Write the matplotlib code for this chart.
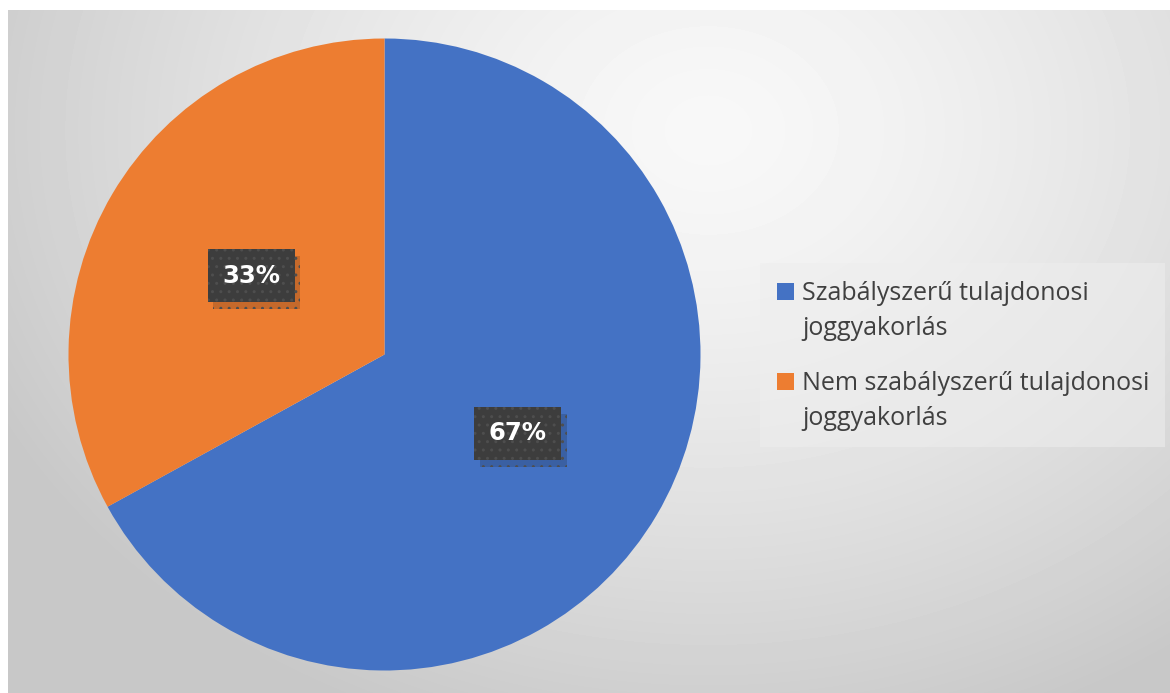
import numpy as np
import matplotlib
matplotlib.use('Agg')
import matplotlib.pyplot as plt
from matplotlib.patches import Rectangle
import matplotlib.patheffects as pe

labels = ['Szabályszerű tulajdonosi\njoggyakorlás',
          'Nem szabályszerű tulajdonosi\njoggyakorlás']
values = [67, 33]
colors = ['#4472C4', '#ED7D31']

W, H = 1170, 693
fig = plt.figure(figsize=(W / 100, H / 100), dpi=100)
fig.patch.set_facecolor('white')

# background gradient (chart area)
bg = fig.add_axes([8 / W, 0, (W - 8) / W, (H - 10) / H])
yy, xx = np.mgrid[0:683, 0:1162]
d = np.sqrt((xx - 700) ** 2 + ((yy - 120) * 1.25) ** 2)
t = np.clip(d / 800, 0, 1)
shade = 0.972 - 0.19 * t ** 1.4
bg.imshow(shade, cmap='gray', vmin=0, vmax=1, aspect='auto', interpolation='bilinear')
bg.axis('off')

# pie
cx, cy, r = 384.5, 354.5, 316
ax = fig.add_axes([(cx - r) / W, (H - cy - r) / H, 2 * r / W, 2 * r / H])
wedges, texts, autotexts = ax.pie(values, colors=colors, startangle=90, counterclock=False,
                                  autopct='%1.0f%%', pctdistance=0.49,
                                  wedgeprops=dict(linewidth=0))
for at in autotexts:
    at.set_color('white')
    at.set_fontweight('bold')
    at.set_fontsize(17.5)
    at.set_bbox(dict(boxstyle='square,pad=0.6', facecolor='#3d3d3d', edgecolor='#4e4e4e',
                     hatch='..', linewidth=0))
    at.get_bbox_patch().set_path_effects([pe.SimplePatchShadow(offset=(4, -5), alpha=0.18),
                                          pe.Normal()])
ax.set_xlim(-1, 1)
ax.set_ylim(-1, 1)
ax.set_aspect('equal')


# legend, drawn by hand in pixel positions (top-left origin)
def px(x, y):
    return x / W, 1 - y / H


fig.patches.append(Rectangle(px(760, 447), 405 / W, 184 / H, transform=fig.transFigure,
                             facecolor='#eeeeee', alpha=0.55, edgecolor='none'))
first_baselines = [300, 390]
for lab, col, yb in zip(labels, colors, first_baselines):
    fig.patches.append(Rectangle(px(777, yb), 17 / W, 17 / H, transform=fig.transFigure,
                                 facecolor=col, edgecolor='none'))
    for k, line in enumerate(lab.split('\n')):
        fig.text(*px(802, yb + 35 * k), line, ha='left', va='baseline',
                 family='Open Sans', fontsize=18, color='#404040')

fig.savefig('out.png', dpi=100)
